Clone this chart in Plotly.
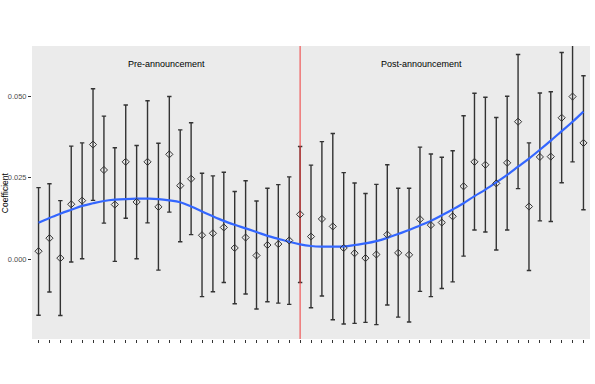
import plotly.graph_objects as go

periods = list(range(-24, 27))
coef = [0.0025, 0.0065, 0.0004, 0.0169, 0.0180, 0.0352, 0.0274, 0.0168, 0.0299, 0.0176,
        0.0299, 0.0161, 0.0322, 0.0226, 0.0247, 0.0074, 0.0080, 0.0098, 0.0035, 0.0067,
        0.0012, 0.0044, 0.0047, 0.0058, 0.0138,
        0.0070, 0.0124, 0.0101, 0.0035, 0.0019, 0.0004, 0.0015, 0.0076, 0.0020, 0.0014,
        0.0123, 0.0105, 0.0113, 0.0132, 0.0224, 0.0299, 0.0290, 0.0233, 0.0296, 0.0422,
        0.0162, 0.0314, 0.0315, 0.0434, 0.0499, 0.0357]
upper = [0.0220, 0.0232, 0.0180, 0.0347, 0.0357, 0.0523, 0.0439, 0.0342, 0.0473, 0.0349,
         0.0486, 0.0356, 0.0499, 0.0397, 0.0419, 0.0264, 0.0256, 0.0267, 0.0208, 0.0241,
         0.0179, 0.0218, 0.0229, 0.0253, 0.0346,
         0.0289, 0.0361, 0.0386, 0.0266, 0.0234, 0.0202, 0.0230, 0.0290, 0.0218, 0.0218,
         0.0344, 0.0323, 0.0313, 0.0333, 0.0440, 0.0509, 0.0497, 0.0435, 0.0500, 0.0628,
         0.0357, 0.0510, 0.0514, 0.0634, 0.0699, 0.0563]
lower = [-0.0171, -0.0100, -0.0172, -0.0008, 0.0002, 0.0181, 0.0111, -0.0006, 0.0126, 0.0002,
         0.0112, -0.0033, 0.0145, 0.0054, 0.0076, -0.0114, -0.0099, -0.0071, -0.0136, -0.0106,
         -0.0152, -0.0130, -0.0134, -0.0138, -0.0071,
         -0.0148, -0.0112, -0.0185, -0.0198, -0.0196, -0.0193, -0.0200, -0.0140, -0.0177, -0.0192,
         -0.0098, -0.0114, -0.0089, -0.0069, 0.0010, 0.0090, 0.0084, 0.0029, 0.0090, 0.0217,
         -0.0034, 0.0118, 0.0116, 0.0235, 0.0299, 0.0152]
smooth = [0.0112, 0.0127, 0.0140, 0.0152, 0.0164, 0.0172, 0.0179, 0.0183, 0.0185, 0.0186,
          0.0186, 0.0185, 0.0181, 0.0175, 0.0162, 0.0147, 0.0132, 0.0118, 0.0106, 0.0095,
          0.0084, 0.0072, 0.0063, 0.0054, 0.0046,
          0.0041, 0.0039, 0.0039, 0.0040, 0.0044, 0.0049, 0.0056, 0.0066, 0.0078, 0.0090,
          0.0104, 0.0118, 0.0135, 0.0153, 0.0172, 0.0194, 0.0214, 0.0236, 0.0259, 0.0284,
          0.0309, 0.0336, 0.0364, 0.0393, 0.0422, 0.0453]
y_ticks = [0.0, 0.025, 0.05]
y_tick_labels = ["0.000", "0.025", "0.050"]
event_period = 0
labels = ["Pre-announcement", "Post-announcement"]
label_x = [-12.3, 11.1]
y_title = "Coefficient"

y_range = [-0.0244, 0.0654]

err_plus = [u - c for u, c in zip(upper, coef)]
err_minus = [c - l for c, l in zip(coef, lower)]

fig = go.Figure()
fig.add_trace(go.Scatter(
    x=periods, y=coef, mode="markers",
    marker=dict(size=0.1, color="rgba(0,0,0,0)"),
    error_y=dict(type="data", symmetric=False, array=err_plus, arrayminus=err_minus,
                 color="#333333", thickness=1.4, width=2.2),
    showlegend=False, hoverinfo="skip"))
fig.add_trace(go.Scatter(
    x=[event_period, event_period], y=[-1, 1], mode="lines",
    line=dict(color="#f03a3a", width=1), showlegend=False, hoverinfo="skip"))
fig.add_trace(go.Scatter(
    x=periods, y=smooth, mode="lines", line=dict(color="#3366FF", width=2.2, shape="spline"),
    showlegend=False))
fig.add_trace(go.Scatter(
    x=periods, y=coef, mode="markers",
    marker=dict(symbol="diamond-open", size=5.5, color="#333333", line=dict(width=1, color="#333333")),
    showlegend=False))

for t, xx in zip(labels, label_x):
    fig.add_annotation(x=xx, y=0.0600, text=t, showarrow=False,
                       font=dict(family="Liberation Sans, Arial", size=9, color="black"))

fig.add_annotation(xref="paper", yref="paper", x=-0.049, y=0.5, text=y_title, textangle=-90,
                   showarrow=False, xanchor="center", yanchor="middle",
                   font=dict(family="Liberation Sans, Arial", size=8.5, color="black"))

fig.update_layout(
    width=595, height=384,
    margin=dict(l=32, r=5, t=46, b=45, autoexpand=False),
    paper_bgcolor="white", plot_bgcolor="#EBEBEB",
    font=dict(family="Liberation Sans, Arial", color="#4d4d4d"),
)
fig.update_xaxes(range=[periods[0] - 0.6, periods[-1] + 0.6], tickmode="array", tickvals=periods,
                 ticktext=["" for _ in periods], ticks="outside", ticklen=3, tickcolor="#333333",
                 tickwidth=1, showgrid=False, zeroline=False, showline=False, automargin=False)
fig.update_yaxes(range=y_range, tickmode="array", tickvals=y_ticks, ticktext=y_tick_labels,
                 ticks="outside", ticklen=3, tickcolor="#333333", tickwidth=1,
                 tickfont=dict(size=7.5, color="#4d4d4d"), showgrid=False, zeroline=False,
                 showline=False, automargin=False)

fig.write_html("out.html", config={"displayModeBar": False},
               post_script="document.body.style.margin='0px';")
